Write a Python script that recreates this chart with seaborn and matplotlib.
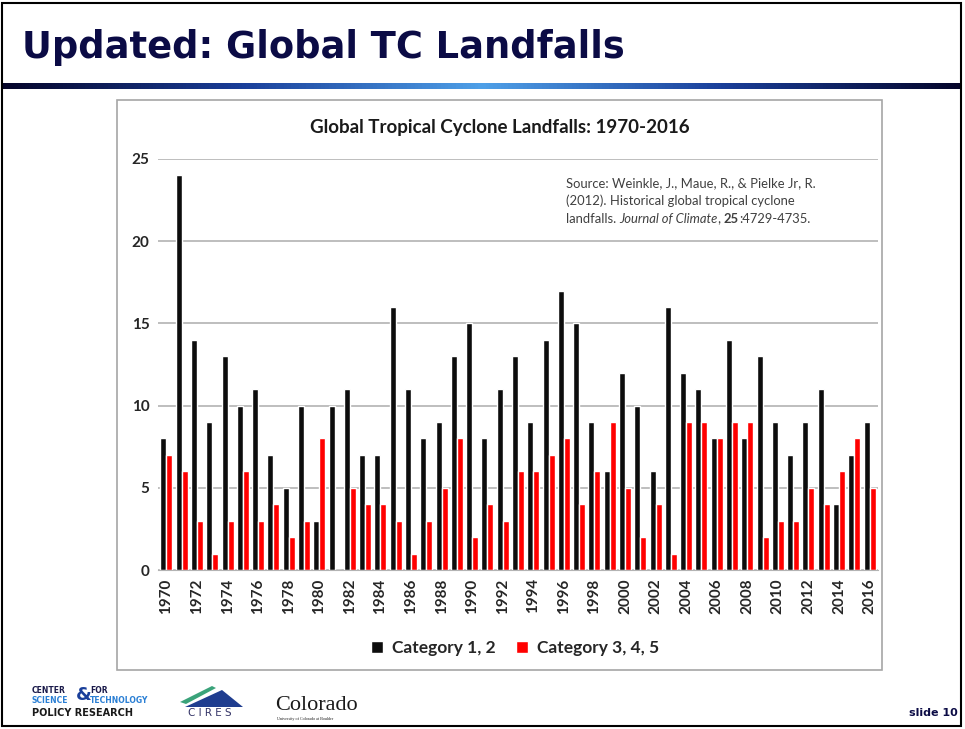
import numpy as np
import pandas as pd
import seaborn as sns
from matplotlib import pyplot as plt
from matplotlib.patches import Rectangle, Polygon
from matplotlib.colors import LinearSegmentedColormap

years = list(range(1970, 2017))
cat_12 = [8, 24, 14, 9, 13, 10, 11, 7, 5, 10, 3, 10, 11, 7, 7, 16, 11, 8, 9, 13,
          15, 8, 11, 13, 9, 14, 17, 15, 9, 6, 12, 10, 6, 16, 12, 11, 8, 14, 8, 13,
          9, 7, 9, 11, 4, 7, 9]
cat_345 = [7, 6, 3, 1, 3, 6, 3, 4, 2, 3, 8, 0, 5, 4, 4, 3, 1, 3, 5, 8,
           2, 4, 3, 6, 6, 7, 8, 4, 6, 9, 5, 2, 4, 1, 9, 9, 8, 9, 9, 2,
           3, 3, 5, 4, 6, 8, 5]
series_names = ['Category 1, 2', 'Category 3, 4, 5']
y_ticks = [0, 5, 10, 15, 20, 25]

df = pd.DataFrame({
    'year': years * 2,
    'count': cat_12 + cat_345,
    'category': [series_names[0]] * len(years) + [series_names[1]] * len(years),
})

sns.set_style('white')
plt.rcParams['font.family'] = ['Lato', 'DejaVu Sans']

W, H = 965, 729
fig = plt.figure(figsize=(W / 100, H / 100), dpi=100)
fig.patch.set_facecolor('white')

# slide frame
fig.add_artist(Rectangle((2 / W, 3 / H), 959 / W, 723 / H, transform=fig.transFigure,
                         fill=False, edgecolor='black', linewidth=1.5))

# slide title
navy = '#0b0b45'
fig.text(22 / W, 1 - 48 / H, 'Updated: Global TC Landfalls', fontsize=26.5, fontweight='bold',
         color=navy, family='DejaVu Sans', va='center', ha='left')

# gradient rule below the title
gax = fig.add_axes([3 / W, 1 - 89 / H, 958 / W, 6 / H])
cmap = LinearSegmentedColormap.from_list('rule', ['#05052a', '#1a3f9a', '#4fa0e8', '#1a3f9a', '#05052a'])
gax.imshow(np.linspace(0, 1, 256)[None, :], aspect='auto', cmap=cmap)
gax.axis('off')

# chart box
fig.add_artist(Rectangle((117 / W, 1 - 670 / H), 765 / W, 570 / H, transform=fig.transFigure,
                         fill=False, edgecolor='#a6a6a6', linewidth=1.2))

ax = fig.add_axes([158 / W, 1 - 570 / H, 720 / W, 411 / H])
sns.barplot(data=df, x='year', y='count', hue='category', palette=['#0d0d0d', '#ff0000'],
            saturation=1, width=0.78, ax=ax, legend=True)
ax.set_ylim(0, 25)
ax.set_yticks(y_ticks)
ax.set_yticklabels([str(t) for t in y_ticks], fontsize=11, fontweight='bold', color='#262626')
ax.set_xticks(range(0, len(years), 2))
ax.set_xticklabels([str(y) for y in years[::2]], rotation=90, fontsize=11, fontweight='bold',
                   color='#262626')
ax.set_xlim(-0.55, len(years) - 0.45)
ax.set_xlabel('')
ax.set_ylabel('')
ax.yaxis.grid(True, color='#b3b3b3', linewidth=1.2)
ax.set_axisbelow(True)
for s in ['top', 'right', 'left']:
    ax.spines[s].set_visible(False)
ax.spines['bottom'].set_color('#b3b3b3')
ax.tick_params(axis='both', length=0, pad=6)

ax.legend(handles=ax.get_legend().legend_handles, labels=series_names,
          loc='center', bbox_to_anchor=(515 / W, 1 - 648 / H), bbox_transform=fig.transFigure,
          ncol=2, frameon=False, prop={'size': 12.5, 'weight': 'bold'},
          handlelength=0.7, handleheight=0.7, columnspacing=1.2, handletextpad=0.5)

# chart title
fig.text(500 / W, 1 - 127 / H, 'Global Tropical Cyclone Landfalls: 1970-2016', fontsize=13.5,
         fontweight='bold', color='#1a1a1a', ha='center', va='center')

# source note
src_color = '#404040'
src_size = 9.4
fig.text(566 / W, 1 - 183 / H, 'Source: Weinkle, J., Maue, R., & Pielke Jr, R.', fontsize=src_size,
         color=src_color, va='center')
fig.text(566 / W, 1 - 201 / H, '(2012). Historical global tropical cyclone', fontsize=src_size,
         color=src_color, va='center')
renderer = fig.canvas.get_renderer()
x0 = 566
for piece, kw in [('landfalls.', {}), ('Journal of Climate', {'style': 'italic'}),
                  (',', {}), ('25', {'weight': 'bold'}), (':4729-4735.', {})]:
    t = fig.text(x0 / W, 1 - 219 / H, piece, fontsize=src_size, color=src_color, va='center', **kw)
    gap = 3 if piece in ('landfalls.', ',') else 0
    x0 += t.get_window_extent(renderer).width + gap

# footer logos
fig.text(32 / W, 1 - 693 / H, 'CENTER', fontsize=5.5, fontweight='bold', color='#1a1a4a', family='DejaVu Sans')
fig.text(32 / W, 1 - 703 / H, 'SCIENCE', fontsize=5.5, fontweight='bold', color='#2a7fd4', family='DejaVu Sans')
fig.text(76 / W, 1 - 700 / H, '&', fontsize=13, fontweight='bold', color='#1a3f9a', family='DejaVu Sans')
fig.text(90 / W, 1 - 693 / H, 'FOR', fontsize=5.5, fontweight='bold', color='#1a1a4a', family='DejaVu Sans')
fig.text(90 / W, 1 - 703 / H, 'TECHNOLOGY', fontsize=5.5, fontweight='bold', color='#2a7fd4', family='DejaVu Sans')
fig.text(32 / W, 1 - 716 / H, 'POLICY RESEARCH', fontsize=7, fontweight='bold', color='#1a1a1a', family='DejaVu Sans')
fig.add_artist(Polygon([(185 / W, 1 - 707 / H), (222 / W, 1 - 690 / H), (243 / W, 1 - 707 / H)],
                       closed=True, transform=fig.transFigure, facecolor='#1f3d8f', edgecolor='none'))
fig.add_artist(Polygon([(180 / W, 1 - 702 / H), (212 / W, 1 - 686 / H), (216 / W, 1 - 688 / H), (186 / W, 1 - 704 / H)],
                       closed=True, transform=fig.transFigure, facecolor='#3aa37a', edgecolor='none'))
fig.text(210 / W, 1 - 716 / H, 'C I R E S', fontsize=7.5, color='#333366', ha='center', family='DejaVu Sans')
fig.text(275 / W, 1 - 706 / H, 'Colorado', fontsize=16, color='#1a1a1a', family='Liberation Serif', va='center')
fig.text(277 / W, 1 - 719 / H, 'University of Colorado at Boulder', fontsize=3, color='#1a1a1a',
         family='Liberation Serif', va='center')
fig.text(933 / W, 1 - 713 / H, 'slide 10', fontsize=8, fontweight='bold', color=navy,
         family='DejaVu Sans', ha='center', va='center')

fig.savefig('out.png', dpi=100)
